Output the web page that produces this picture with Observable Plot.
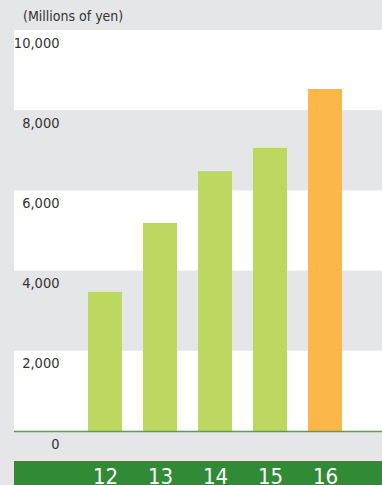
<!DOCTYPE html>
<html>
<head>
<meta charset="utf-8">
<script src="https://cdn.jsdelivr.net/npm/d3@7"></script>
<script src="https://cdn.jsdelivr.net/npm/@observablehq/plot@0.6"></script>
<style>
  html, body { margin: 0; padding: 0; background: #e5e6e8; width: 382px; height: 485px; overflow: hidden; }
  #title { height: 30px; line-height: 30px; padding-left: 23px; font-family: "Liberation Sans Narrow", "DejaVu Sans Condensed", "Liberation Sans", sans-serif; font-size: 14px; color: #333; box-sizing: border-box; padding-top: 1px; }
  #chart svg { display: block; }
</style>
</head>
<body>
<div id="title">(Millions of yen)</div>
<div id="chart"></div>
<script>
const years = ["12", "13", "14", "15", "16"];
const values = [3470, 5190, 6480, 7060, 8530];
const yTicks = [0, 2000, 4000, 6000, 8000, 10000];
const whiteBandStarts = [0, 4000, 8000];
const bandSize = 2000;

const green = "#bdd760";
const orange = "#fbb849";
const font = '"Liberation Sans Narrow", "DejaVu Sans Condensed", "Liberation Sans", sans-serif';

const data = years.map((y, i) => ({year: y, value: values[i]}));
const bands = whiteBandStarts.map(s => ({y1: s, y2: s + bandSize}));

const chart = Plot.plot({
  width: 382,
  height: 455,
  marginTop: 0,
  marginBottom: 54,
  marginLeft: 14,
  marginRight: 0,
  style: {
    background: "linear-gradient(#318a36, #318a36) 14px 431px / 368px 24px no-repeat",
    fontFamily: font,
    overflow: "visible"
  },
  x: {type: "band", domain: years, range: [76, 354], paddingInner: 0.39, paddingOuter: 0.2, label: null},
  y: {domain: [0, 10000], label: null, axis: null},
  marks: [
    Plot.rect(bands, {y1: "y1", y2: "y2", fill: "white"}),
    Plot.barY(data, {x: "year", y: "value", fill: d => d.year === "16" ? orange : green}),
    Plot.ruleY([0], {stroke: "#5a9e56", strokeWidth: 1.5}),
    Plot.text(yTicks, {y: d => d, text: d => d3.format(",")(d), frameAnchor: "left", dx: 45, dy: 12.5, textAnchor: "end", fontSize: 14.5, fill: "#333"}),
    Plot.axisX({tickSize: 0, tickPadding: 37, fontSize: 22, fill: "white", fontFamily: font, label: null})
  ]
});
document.getElementById("chart").appendChild(chart);
</script>
</body>
</html>
